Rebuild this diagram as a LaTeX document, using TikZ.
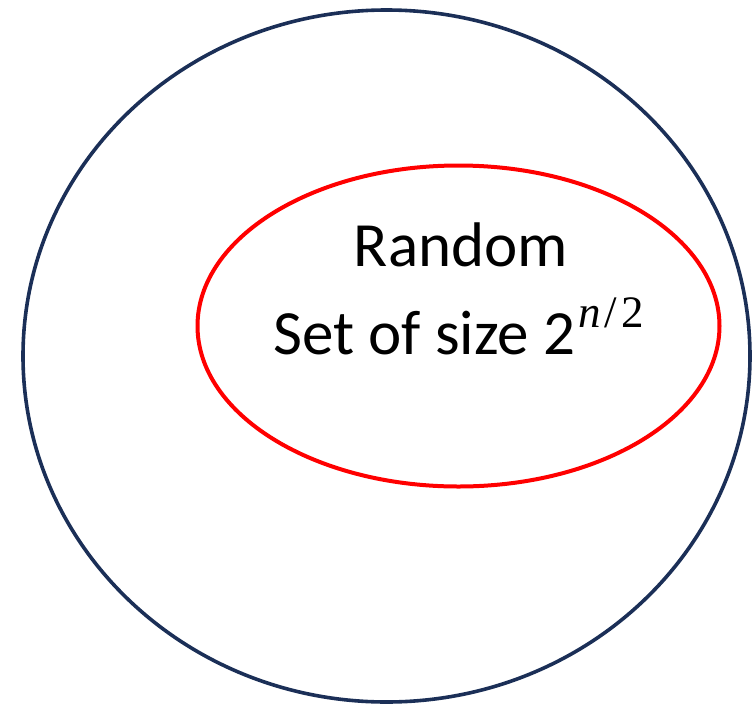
\documentclass[tikz,border=0pt]{standalone}
\usepackage{fontspec}
\setmainfont{Carlito}
\newfontfamily\supfont{Liberation Serif}
\usetikzlibrary{shapes.geometric}
\definecolor{navy}{HTML}{1B2F57}
\definecolor{redline}{HTML}{FF0000}
\tikzset{
  outerset/.style={ellipse, draw=navy, line width=3.6pt, minimum width=727pt, minimum height=692pt, inner sep=0pt},
  innerset/.style={ellipse, draw=redline, line width=4pt, minimum width=522pt, minimum height=321pt, inner sep=0pt},
  label/.style={align=center, font=\fontsize{63}{88}\selectfont, inner sep=0pt}
}
\newcommand{\expo}{\raisebox{27pt}{\fontsize{45}{47}\selectfont\supfont\kern3pt\itshape n\upshape\kern4pt/\kern4pt2}}
\begin{document}
\begin{tikzpicture}[x=1pt,y=-1pt]
\useasboundingbox (0,0) rectangle (756,705);
\node[outerset] (universe) at (386.5,356) {};
\node[innerset] (randomset) at (458.5,326) {};
\node[label, anchor=base] (line1) at (461,266) {Random};
\node[label, anchor=base] (line2) at (458.5,354) {Set of size 2\expo};
\end{tikzpicture}
\end{document}
